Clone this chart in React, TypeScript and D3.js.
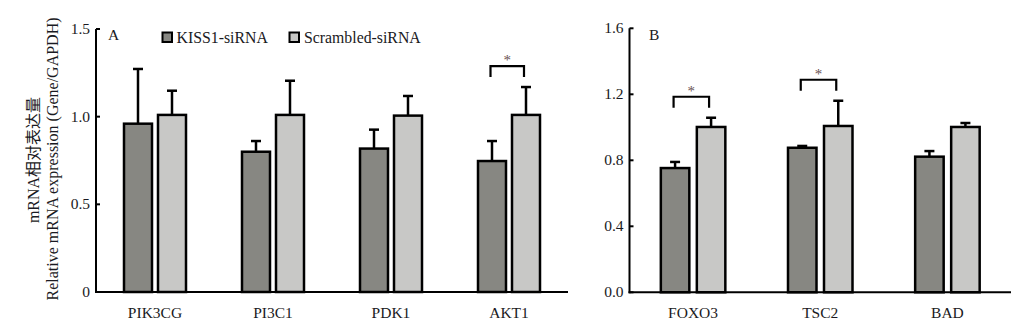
import React from "react";
import * as d3 from "d3";

const seriesNames = ["KISS1-siRNA", "Scrambled-siRNA"];
const seriesColors = ["#878782", "#c8c8c6"];

const catsA = ["PIK3CG", "PI3C1", "PDK1", "AKT1"];
const kissA = [0.96, 0.8, 0.818, 0.747];
const kissErrA = [0.312, 0.061, 0.108, 0.114];
const scrA = [1.01, 1.01, 1.006, 1.01];
const scrErrA = [0.138, 0.195, 0.112, 0.159];
const ticksA = [0, 0.5, 1.0, 1.5];
const tickLabelsA = ["0", "0.5", "1.0", "1.5"];
const sigA = ["AKT1"];

const catsB = ["FOXO3", "TSC2", "BAD"];
const kissB = [0.753, 0.876, 0.822];
const kissErrB = [0.037, 0.011, 0.034];
const scrB = [1.002, 1.008, 1.002];
const scrErrB = [0.056, 0.153, 0.024];
const ticksB = [0, 0.4, 0.8, 1.2, 1.6];
const tickLabelsB = ["0.0", "0.4", "0.8", "1.2", "1.6"];
const sigB = ["FOXO3", "TSC2"];

const FONT = "'Liberation Serif', 'Times New Roman', serif";
const TEXT = "#1a1a22";

type PanelProps = {
  cats: string[];
  kiss: number[];
  kissErr: number[];
  scr: number[];
  scrErr: number[];
  ticks: number[];
  tickLabels: string[];
  sig: string[];
  x0: number;
  x1: number;
  yTop: number;
  yBottom: number;
  yMax: number;
  gap: number;
  barW: number;
  letter: string;
  letterX: number;
};

function Panel(p: PanelProps) {
  const x = d3.scaleBand<string>().domain(p.cats).range([p.x0, p.x1]).padding(0);
  const y = d3.scaleLinear().domain([0, p.yMax]).range([p.yBottom, p.yTop]);
  const sw = 2.5;
  const bars: React.ReactNode[] = [];
  p.cats.forEach((c, i) => {
    const cx = (x(c) as number) + x.bandwidth() / 2;
    const vals = [p.kiss[i], p.scr[i]];
    const errs = [p.kissErr[i], p.scrErr[i]];
    vals.forEach((v, s) => {
      const bx = s === 0 ? cx - p.gap / 2 - p.barW : cx + p.gap / 2;
      const mid = bx + p.barW / 2;
      const top = y(v);
      const et = y(v + errs[s]);
      bars.push(
        <g key={c + s}>
          <line x1={mid} x2={mid} y1={top} y2={et} stroke="#000" strokeWidth={sw} />
          <line x1={mid - 5} x2={mid + 5} y1={et} y2={et} stroke="#000" strokeWidth={sw} />
          <rect x={bx} y={top} width={p.barW} height={p.yBottom - top} fill={seriesColors[s]} stroke="#000" strokeWidth={sw} />
        </g>
      );
    });
    if (p.sig.includes(c)) {
      const leftMid = cx - p.gap / 2 - p.barW / 2 - 1.5;
      const rightMid = cx + p.gap / 2 + p.barW / 2 - 2;
      const topE = Math.max(vals[0] + errs[0], vals[1] + errs[1]);
      const by = y(topE) - 21;
      bars.push(
        <g key={c + "sig"}>
          <path d={`M${leftMid},${by + 11}V${by}H${rightMid}V${by + 11}`} fill="none" stroke="#000" strokeWidth={2.2} />
          <text x={(leftMid + rightMid) / 2} y={by - 1} fontSize={15} fill="#6a5252" textAnchor="middle" fontFamily={FONT}>*</text>
        </g>
      );
    }
  });
  return (
    <g>
      {bars}
      <line x1={p.x0} x2={p.x0} y1={p.yTop} y2={p.yBottom + 1} stroke="#000" strokeWidth={2} />
      <line x1={p.x0 - 1} x2={p.x1} y1={p.yBottom} y2={p.yBottom} stroke="#000" strokeWidth={2} />
      {p.ticks.map((t, i) => (
        <g key={"t" + i}>
          <line x1={p.x0} x2={p.x0 + 4} y1={y(t)} y2={y(t)} stroke="#000" strokeWidth={2} />
          <text x={p.x0 - 6} y={y(t) + 5} textAnchor="end" fontSize={15.5} fill={TEXT} fontFamily={FONT}>{p.tickLabels[i]}</text>
        </g>
      ))}
      {p.cats.map((c) => (
        <text key={"c" + c} x={(x(c) as number) + x.bandwidth() / 2} y={318} textAnchor="middle" fontSize={15.5} fill={TEXT} fontFamily={FONT}>{c}</text>
      ))}
      <text x={p.letterX} y={40} fontSize={15.5} fill={TEXT} fontFamily={FONT}>{p.letter}</text>
    </g>
  );
}

export default function App() {
  return (
    <svg width={1031} height={334} style={{ position: "absolute", left: 0, top: 0, background: "#fff" }}>
      <rect width={1031} height={334} fill="#fff" />
      <Panel cats={catsA} kiss={kissA} kissErr={kissErrA} scr={scrA} scrErr={scrErrA} ticks={ticksA} tickLabels={tickLabelsA} sig={sigA}
        x0={96} x1={568} yTop={29} yBottom={292} yMax={1.5} gap={6} barW={28} letter="A" letterX={108} />
      <Panel cats={catsB} kiss={kissB} kissErr={kissErrB} scr={scrB} scrErr={scrErrB} ticks={ticksB} tickLabels={tickLabelsB} sig={sigB}
        x0={629.5} x1={1011} yTop={28.3} yBottom={292.3} yMax={1.6} gap={7.5} barW={28.5} letter="B" letterX={649} />
      {/* legend */}
      <rect x={162.5} y={32.5} width={9.5} height={9.5} fill={seriesColors[0]} stroke="#000" strokeWidth={2} />
      <text x={176.5} y={42.5} fontSize={15.8} fill={TEXT} fontFamily={FONT}>{seriesNames[0]}</text>
      <rect x={289.5} y={32.5} width={9.5} height={9.5} fill={seriesColors[1]} stroke="#000" strokeWidth={2} />
      <text x={304} y={42.5} fontSize={15.8} fill={TEXT} fontFamily={FONT}>{seriesNames[1]}</text>
      {/* y title */}
      <text transform="translate(39,160) rotate(-90)" textAnchor="middle" fontSize={16} fill={TEXT} fontFamily={`${FONT}, 'Noto Sans CJK SC'`}>mRNA相对表达量</text>
      <text transform="translate(58,159) rotate(-90)" textAnchor="middle" fontSize={16} fill={TEXT} fontFamily={FONT}>Relative mRNA expression (Gene/GAPDH)</text>
    </svg>
  );
}
